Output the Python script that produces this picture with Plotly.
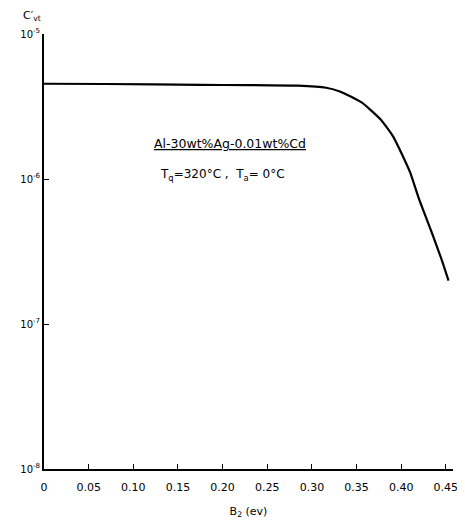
import plotly.graph_objects as go

# Data
b2 = [0.0, 0.069, 0.176, 0.284, 0.316, 0.332, 0.356, 0.377, 0.391, 0.402, 0.410, 0.420, 0.434, 0.445, 0.453]
cvt = [4.54e-6, 4.52e-6, 4.46e-6, 4.40e-6, 4.26e-6, 4.00e-6, 3.36e-6, 2.57e-6, 1.96e-6, 1.43e-6,
       1.11e-6, 7.26e-7, 4.31e-7, 2.81e-7, 1.99e-7]

x_ticks = [0, 0.05, 0.10, 0.15, 0.20, 0.25, 0.30, 0.35, 0.40, 0.45]
x_ticklabels = ["0", "0.05", "0.10", "0.15", "0.20", "0.25", "0.30", "0.35", "0.40", "0.45"]
y_ticks = [1e-8, 1e-7, 1e-6, 1e-5]
y_ticklabels = ["10<sup>-8</sup>", "10<sup>-7</sup>", "10<sup>-6</sup>", "10<sup>-5</sup>"]

FONT = "DejaVu Sans"

fig = go.Figure()
fig.add_trace(go.Scatter(
    x=b2, y=cvt, mode="lines",
    line=dict(color="black", width=2.2, shape="spline", smoothing=0.5),
    showlegend=False, hoverinfo="skip",
))

fig.update_layout(
    width=465, height=520,
    margin=dict(l=28, r=20, t=26, b=57),
    paper_bgcolor="white", plot_bgcolor="white",
    font=dict(family=FONT, size=11, color="black"),
    xaxis=dict(
        range=[0, 0.458], tickvals=x_ticks, ticktext=x_ticklabels,
        ticks="inside", ticklen=5, tickcolor="black", tickwidth=1.2,
        showline=True, linecolor="black", linewidth=2,
        showgrid=False, zeroline=False, mirror=False,
        ticklabelstandoff=7,
        title=dict(text="B<sub>2</sub> (ev)", standoff=14, font=dict(size=11)),
        tickfont=dict(size=11),
    ),
    yaxis=dict(
        type="log", range=[-8, -5], tickvals=y_ticks, ticktext=y_ticklabels,
        ticks="inside", ticklen=5, tickcolor="black", tickwidth=1.2,
        showline=True, linecolor="black", linewidth=2,
        showgrid=False, zeroline=False,
        tickfont=dict(size=10),
    ),
    annotations=[
        dict(text="C′<sub>vt</sub>", xref="paper", yref="paper", x=-0.03, y=1.0,
             xanchor="center", yshift=27, showarrow=False, font=dict(size=11)),
        dict(text="<u>Al-30wt%Ag-0.01wt%Cd</u>", xref="paper", yref="paper",
             x=0.454, y=0.77, xanchor="center", showarrow=False, font=dict(size=12.5)),
        dict(text="T<sub>q</sub>=320°C ,  T<sub>a</sub>= 0°C", xref="paper", yref="paper",
             x=0.437, y=0.70, xanchor="center", showarrow=False, font=dict(size=12)),
    ],
)

fig.write_html("out.html")
